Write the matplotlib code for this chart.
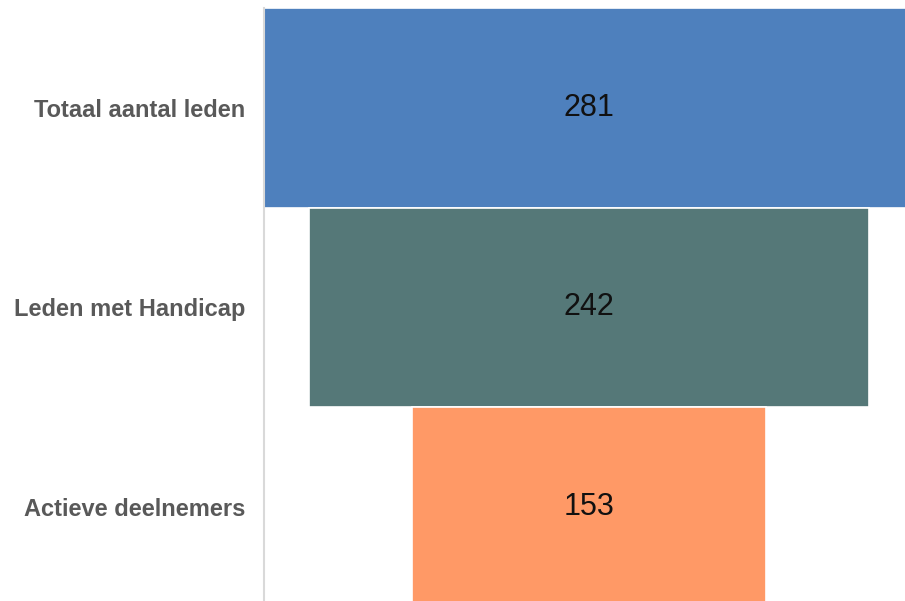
import matplotlib
matplotlib.use("Agg")
import matplotlib.pyplot as plt

# funnel data
stages = ["Totaal aantal leden", "Leden met Handicap", "Actieve deelnemers"]
counts = [281, 242, 153]
colors = ["#4E80BD", "#557878", "#FF9966"]

plt.rcParams['font.family'] = ['Liberation Sans', 'DejaVu Sans']

fig = plt.figure(figsize=(9.05, 6.01), dpi=100)
ax = fig.add_axes([264/905, 0, 641/905, 593/601])

ypos = list(range(len(stages)))
lefts = [-c/2 for c in counts]
ax.barh(ypos, counts, left=lefts, height=1.0, color=colors,
        edgecolor="white", linewidth=1.2)

for y, c in zip(ypos, counts):
    ax.text(0, y, str(c), ha="center", va="center", fontsize=22, color="#111111")

ax.set_xlim(-140.5, 136.6)
ax.set_ylim(2.472, -0.5)
ax.set_yticks(ypos)
ax.set_yticklabels(stages, fontsize=17, fontweight="bold", color="#595959")
ax.tick_params(axis="y", length=0, pad=13.5)
ax.set_xticks([])

for s in ["top", "right", "bottom"]:
    ax.spines[s].set_visible(False)
ax.spines["left"].set_color("#D9D9D9")
ax.spines["left"].set_linewidth(1.5)

fig.savefig("out.png", dpi=100)
